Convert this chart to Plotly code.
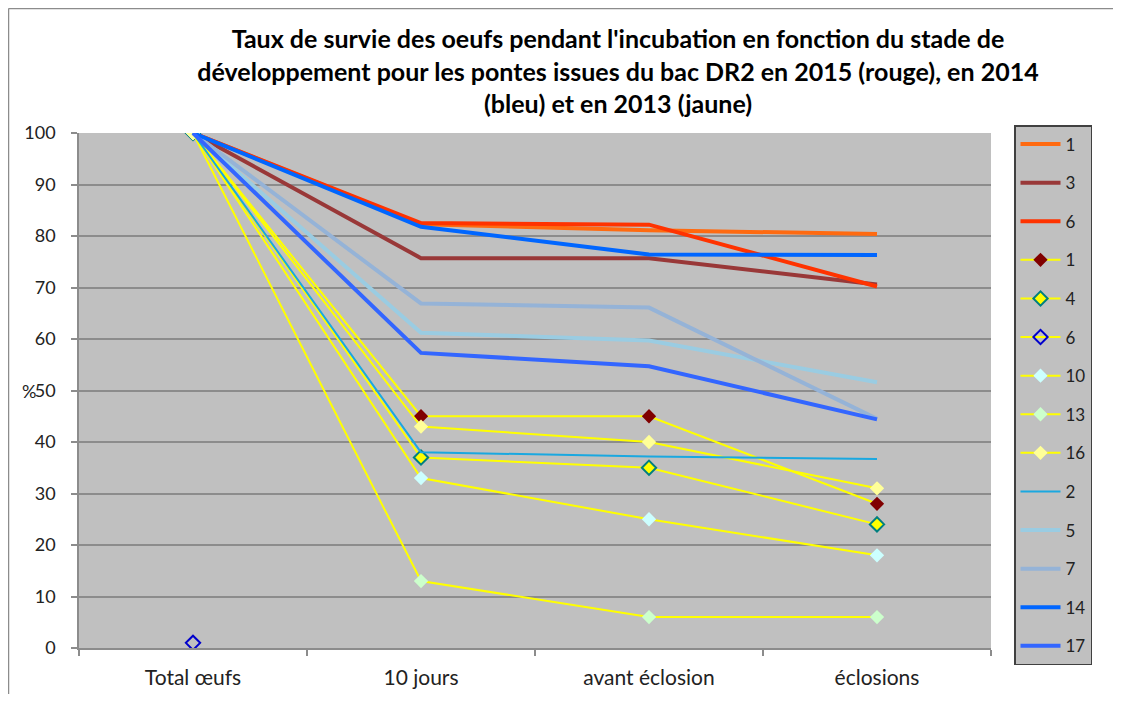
import plotly.graph_objects as go

categories = ["Total œufs", "10 jours", "avant éclosion", "éclosions"]

# 2015 (rouge)
s2015_1 = [100, 82.3, 81.1, 80.4]
s2015_3 = [100, 75.7, 75.7, 70.6]
s2015_6 = [100, 82.5, 82.2, 70.2]
# 2013 (jaune)
s2013_1 = [100, 45.0, 45.0, 28.0]
s2013_4 = [100, 37.0, 35.0, 24.0]
s2013_6 = [1, None, None, None]
s2013_10 = [100, 33.0, 25.0, 18.0]
s2013_13 = [100, 13.0, 6.0, 6.0]
s2013_16 = [100, 43.0, 40.0, 31.0]
# 2014 (bleu)
s2014_2 = [100, 38.0, 37.2, 36.7]
s2014_5 = [100, 61.2, 59.7, 51.6]
s2014_7 = [100, 66.9, 66.1, 44.5]
s2014_14 = [100, 81.8, 76.4, 76.3]
s2014_17 = [100, 57.3, 54.7, 44.4]

FONT = "Lato"
fig = go.Figure()

def line_trace(name, vals, color, width):
    fig.add_trace(go.Scatter(
        x=categories, y=vals, name=name, mode="lines",
        line=dict(color=color, width=width), legendgroup="g%d" % len(fig.data)))

def marker_trace(name, vals, fill, outline, symbol="diamond", owidth=0):
    fig.add_trace(go.Scatter(
        x=categories, y=vals, name=name, mode="lines+markers",
        line=dict(color="#FFFF00", width=2),
        marker=dict(symbol=symbol, size=11, color=fill,
                    line=dict(color=outline, width=owidth)),
        legendgroup="g%d" % len(fig.data)))

line_trace("1", s2015_1, "#FF6A10", 4)
line_trace("3", s2015_3, "#993838", 4)
line_trace("6", s2015_6, "#FF3300", 4)
marker_trace("1", s2013_1, "#800000", "#800000")
marker_trace("4", s2013_4, "#FFFF00", "#007F7F", owidth=2)
marker_trace("6", s2013_6, "#0000CC", "#0000CC", symbol="diamond-open", owidth=2)
marker_trace("10", s2013_10, "#CCFFFF", "#CCFFFF")
marker_trace("13", s2013_13, "#CCFFCC", "#CCFFCC")
marker_trace("16", s2013_16, "#FFFF99", "#FFFF99")
line_trace("2", s2014_2, "#1AA8E0", 2)
line_trace("5", s2014_5, "#9ACCE2", 4)
line_trace("7", s2014_7, "#95B3D7", 4)
line_trace("14", s2014_14, "#0066FF", 4)
line_trace("17", s2014_17, "#3366FF", 4)

# page has an 8px body margin; work in screenshot pixels and shift
OFF = 8
W, H = 1121 - 2 * OFF, 702 - 2 * OFF
L, R, T, B = 79 - OFF, 991 - OFF, 133 - OFF, 648 - OFF
pw, ph = R - L, B - T

def px(x):
    return (x - OFF - L) / pw

def py(y):
    return (B - (y - OFF)) / ph

fig.update_layout(
    width=W, height=H,
    margin=dict(l=L, r=W - R, t=T, b=H - B, pad=0, autoexpand=False),
    paper_bgcolor="white",
    plot_bgcolor="#C0C0C0",
    font=dict(family=FONT, size=16, color="#000000"),
    title=dict(
        text="<b>Taux de survie des oeufs pendant l'incubation en fonction du stade de<br>"
             "développement pour les pontes issues du bac DR2 en 2015 (rouge), en 2014<br>"
             "(bleu) et en 2013 (jaune)</b>",
        x=(618 - OFF) / W, xanchor="center", xref="container",
        y=1 - 40 / H, yanchor="top", yref="container",
        font=dict(family=FONT, size=25, color="#000000"),
        automargin=False,
    ),
    xaxis=dict(
        type="category", range=[-0.5, 3.5], automargin=False,
        showline=True, linecolor="#8C8C8C", linewidth=1.5,
        ticks="outside", tickson="boundaries", ticklen=6, tickcolor="#8C8C8C",
        tickwidth=1.5, showgrid=False, ticklabelstandoff=10,
        tickfont=dict(family=FONT, size=21, color="#222222"),
    ),
    yaxis=dict(
        range=[0, 100], dtick=10, automargin=False,
        showline=True, linecolor="#8C8C8C", linewidth=1.5,
        ticks="outside", ticklen=6, tickcolor="#8C8C8C", tickwidth=1.5,
        showgrid=True, gridcolor="#8C8C8C", gridwidth=1.5,
        zeroline=False, ticklabelstandoff=12,
        tickfont=dict(family=FONT, size=18, color="#222222"),
    ),
    legend=dict(
        x=px(1014), y=py(125), xanchor="left", yanchor="top",
        bgcolor="#C0C0C0", bordercolor="#404040", borderwidth=1.5,
        font=dict(family=FONT, size=17, color="#222222"),
        tracegroupgap=13.5, traceorder="grouped", itemwidth=40,
        entrywidth=86, entrywidthmode="pixels",
        maxheight=650,
    ),
    annotations=[dict(
        text="%", x=px(29), y=50, xref="paper", yref="y",
        showarrow=False, xanchor="center", yanchor="middle",
        font=dict(family=FONT, size=18, color="#222222"),
    )],
    shapes=[
        dict(type="line", xref="paper", yref="paper",
             x0=px(8.5), x1=px(8.5), y0=py(8.5), y1=py(702),
             line=dict(color="#8C8C8C", width=1.5)),
        dict(type="line", xref="paper", yref="paper",
             x0=px(8.5), x1=px(1113), y0=py(8.5), y1=py(8.5),
             line=dict(color="#8C8C8C", width=1.5)),
    ],
)

fig.write_html("out.html")
